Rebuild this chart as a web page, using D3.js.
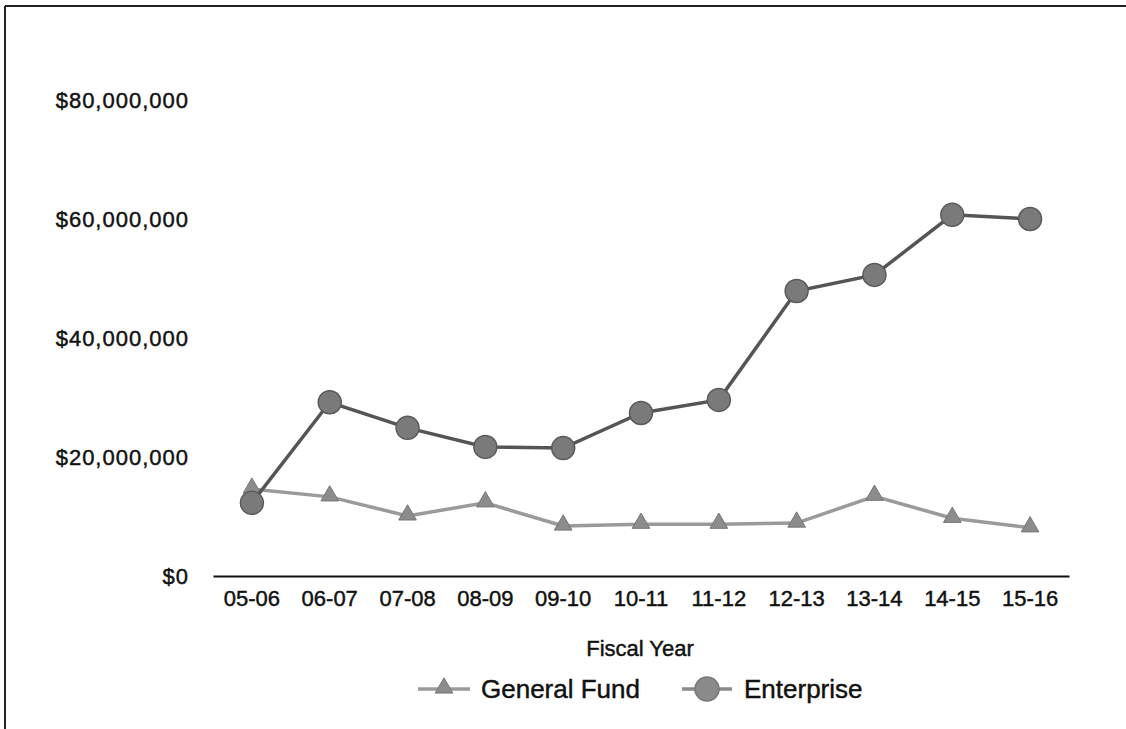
<!DOCTYPE html>
<html>
<head>
<meta charset="utf-8">
<script src="https://cdn.jsdelivr.net/npm/d3@7"></script>
<style>
  html, body { margin: 0; padding: 0; background: #fff; }
  svg { display: block; }
  text { font-family: "Liberation Sans", Arial, sans-serif; fill: #111; stroke: #111; stroke-width: 0.45px; }
</style>
</head>
<body>
<svg id="chart" width="1126" height="729"></svg>
<script>
const categories = ["05-06","06-07","07-08","08-09","09-10","10-11","11-12","12-13","13-14","14-15","15-16"];
const generalFund = [14.6, 13.3, 10.1, 12.3, 8.4, 8.7, 8.7, 8.9, 13.4, 9.7, 8.1].map(v => v * 1e6);
const enterprise = [12.3, 29.2, 24.9, 21.7, 21.5, 27.4, 29.6, 47.9, 50.6, 60.7, 60.0].map(v => v * 1e6);
const yTicks = [0, 20000000, 40000000, 60000000, 80000000];
const seriesNames = ["General Fund", "Enterprise"];
const xTitle = "Fiscal Year";

const svg = d3.select("#chart");

// frame (top and left edges visible in the scan)
svg.append("line").attr("x1", 5).attr("x2", 1126).attr("y1", 6).attr("y2", 6)
  .attr("stroke", "#222").attr("stroke-width", 2);
svg.append("line").attr("x1", 5).attr("x2", 5).attr("y1", 6).attr("y2", 729)
  .attr("stroke", "#222").attr("stroke-width", 2);

const x = d3.scaleBand().domain(categories).range([213, 1069]);
const y = d3.scaleLinear().domain([0, 80000000]).range([576, 100]);
const cx = d => x(d) + x.bandwidth() / 2;

const fmt = v => "$" + d3.format(",")(v);

// y axis labels (no axis line)
const yAxis = d3.axisLeft(y).tickValues(yTicks).tickFormat(fmt).tickSize(0).tickPadding(0);
const gy = svg.append("g").attr("transform", "translate(189,0)").call(yAxis);
gy.select(".domain").remove();
gy.selectAll("text").style("font-size", "22px").style("letter-spacing", "1px")
  .attr("dy", "0.35em").style("font-family", "'Liberation Sans', Arial, sans-serif").attr("fill", "#111");

// x axis
const xAxis = d3.axisBottom(x).tickSize(0).tickPadding(14);
const gx = svg.append("g").attr("transform", "translate(0,576)").call(xAxis);
gx.select(".domain").attr("stroke", "#111").attr("stroke-width", 2);
gx.selectAll("text").style("font-size", "22px").style("font-family", "'Liberation Sans', Arial, sans-serif").attr("fill", "#111");

svg.append("text").attr("x", 640).attr("y", 656).attr("text-anchor", "middle")
  .style("font-size", "22px").text(xTitle);

const line = d3.line().x((d, i) => cx(categories[i])).y(d => y(d));
const triPath = d3.symbol().type(d3.symbolTriangle).size(135);

// General Fund
svg.append("path").datum(generalFund).attr("d", line)
  .attr("fill", "none").attr("stroke", "#9a9a9a").attr("stroke-width", 3.5);
svg.selectAll(".tri").data(generalFund).enter().append("path")
  .attr("class", "tri")
  .attr("d", triPath)
  .attr("transform", (d, i) => `translate(${cx(categories[i])},${y(d) - 1})`)
  .attr("fill", "#8c8c8c").attr("stroke", "#777").attr("stroke-width", 1);

// Enterprise
svg.append("path").datum(enterprise).attr("d", line)
  .attr("fill", "none").attr("stroke", "#555").attr("stroke-width", 3.5);
svg.selectAll(".circ").data(enterprise).enter().append("circle")
  .attr("class", "circ")
  .attr("cx", (d, i) => cx(categories[i])).attr("cy", d => y(d)).attr("r", 11.5)
  .attr("fill", "#7a7a7a").attr("stroke", "#5a5a5a").attr("stroke-width", 1.5);

// legend
const lg = svg.append("g");
const legY = 689;
// General Fund item
lg.append("line").attr("x1", 418).attr("x2", 470).attr("y1", legY).attr("y2", legY)
  .attr("stroke", "#9a9a9a").attr("stroke-width", 3.5);
lg.append("path").attr("d", triPath).attr("transform", `translate(444,${legY - 1})`)
  .attr("fill", "#8c8c8c").attr("stroke", "#777");
lg.append("text").attr("x", 481).attr("y", legY).attr("dy", "0.35em")
  .style("font-size", "26px").text(seriesNames[0]);
// Enterprise item
lg.append("line").attr("x1", 682).attr("x2", 732).attr("y1", legY).attr("y2", legY)
  .attr("stroke", "#8a8a8a").attr("stroke-width", 3.5);
lg.append("circle").attr("cx", 707).attr("cy", legY).attr("r", 12)
  .attr("fill", "#8a8a8a").attr("stroke", "#777").attr("stroke-width", 1.5);
lg.append("text").attr("x", 744).attr("y", legY).attr("dy", "0.35em")
  .style("font-size", "26px").text(seriesNames[1]);
</script>
</body>
</html>
